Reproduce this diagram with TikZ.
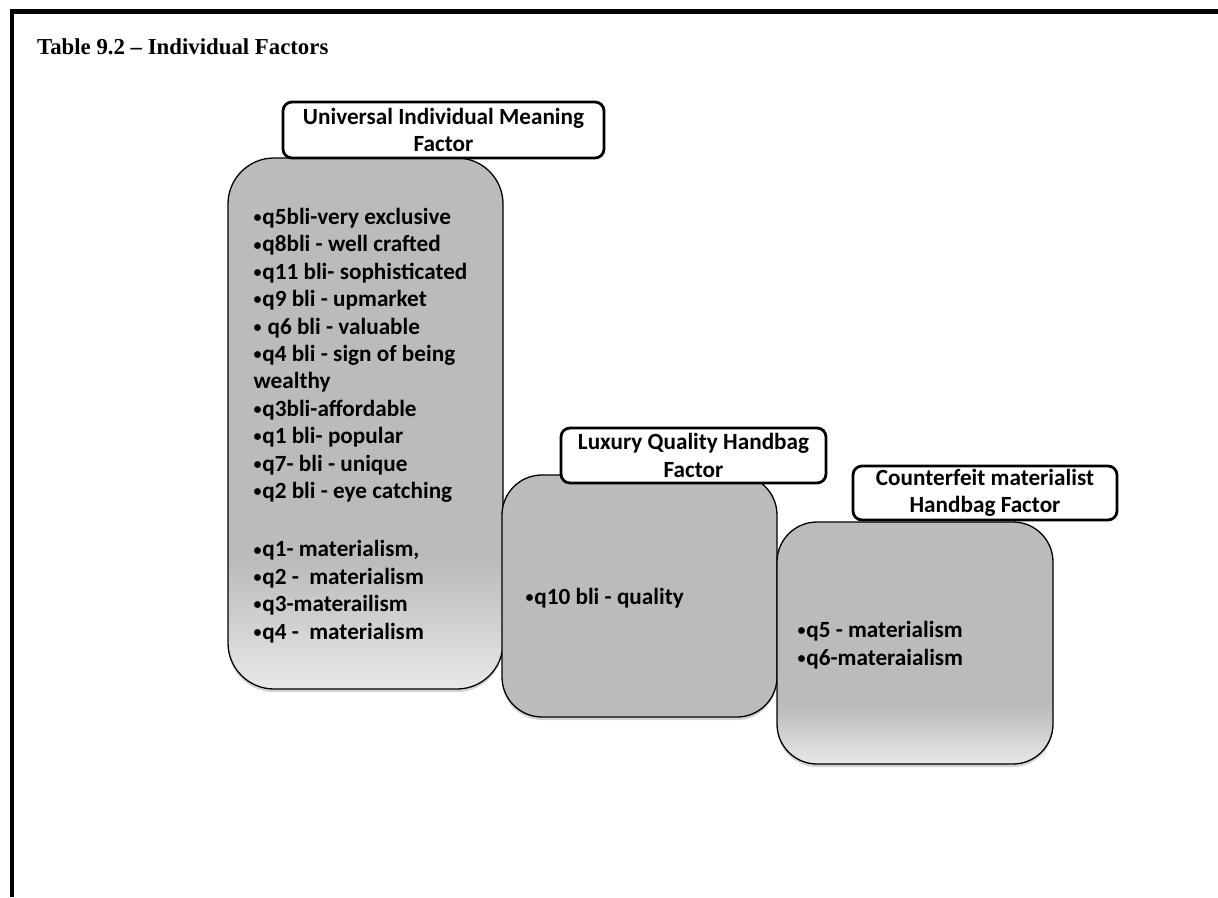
\documentclass[tikz,border=0pt]{standalone}
\usepackage{fontspec}
\setmainfont{Carlito}
\newfontfamily\headfont{Liberation Serif}
\usetikzlibrary{shadows}

\definecolor{boxgray}{HTML}{BBBBBB}
\definecolor{boxlight}{HTML}{E8E8E8}
% grey fill that lightens towards the bottom edge
\pgfdeclareverticalshading{factorshade}{100bp}{color(0bp)=(boxlight); color(25bp)=(boxlight); color(37bp)=(boxgray); color(100bp)=(boxgray)}

\newcommand{\bodyfont}{\fontsize{23.2}{27.4}\selectfont\bfseries}
% small list bullet
\newcommand{\bul}{\raisebox{1.8pt}{\fontsize{16}{16}\selectfont•}\kern0.8pt}

\begin{document}
\begin{tikzpicture}[x=1pt,y=-1pt,
  itembox/.style={draw=black, line width=1.3pt, rectangle, inner sep=0pt,
    drop shadow={shadow xshift=0pt, shadow yshift=-3pt, opacity=0.35}},
  shadedbox/.style={itembox, shade, shading=factorshade},
  plainbox/.style={itembox, fill=boxgray},
  headbox/.style={draw=black, line width=2.8pt, fill=white, rounded corners=9pt,
    inner sep=0pt, align=center, font=\bodyfont},
  itemlist/.style={anchor=west, align=left, inner sep=0pt, font=\bodyfont}]

\useasboundingbox (0,0) rectangle (1218,897);

% page frame: top rule and left rule
\draw[line width=4.5pt] (12,897) -- (12,11.5) -- (1218,11.5);

% caption
\node[anchor=base west, inner sep=0pt, font=\headfont\fontsize{22.8}{27}\selectfont\bfseries]
  (caption) at (37,54) {Table 9.2 – Individual Factors};

% factor boxes
\node[shadedbox, rounded corners=46pt, minimum width=275pt, minimum height=531pt]
  (uni) at (365.5,423.5) {};
\node[plainbox, rounded corners=40pt, minimum width=275pt, minimum height=242pt]
  (lux) at (639.5,596) {};
\node[shadedbox, rounded corners=40pt, minimum width=276pt, minimum height=242pt]
  (cnt) at (915,643) {};

% item lists
\node[itemlist] (unilist) at ([xshift=26pt,yshift=-2pt]uni.west) {%
\bul q5bli-very exclusive\\
\bul q8bli - well crafted\\
\bul q11 bli- sophisticated\\
\bul q9 bli - upmarket\\
\bul\ q6 bli - valuable\\
\bul q4 bli - sign of being\\
wealthy\\
\bul q3bli-affordable\\
\bul q1 bli- popular\\
\bul q7- bli - unique\\
\bul q2 bli - eye catching\\[31pt]
\bul q1- materialism,\\
\bul q2 -~ materialism\\
\bul q3-materailism\\
\bul q4 -~ materialism};
\node[itemlist] (luxlist) at ([xshift=24pt,yshift=-2pt]lux.west) {\bul q10 bli - quality};
\node[itemlist] (cntlist) at ([xshift=21pt,yshift=-2pt]cnt.west) {\bul q5 - materialism\\ \bul q6-materaialism};

% factor headings
\node[headbox, minimum width=321pt, minimum height=56pt] (unihead) at (443.5,130)
  {Universal Individual Meaning\\ Factor};
\node[headbox, minimum width=265pt, minimum height=55pt] (luxhead) at (693.5,455.5)
  {Luxury Quality Handbag\\ Factor};
\node[headbox, minimum width=264pt, minimum height=54pt] (cnthead) at (985,493)
  {Counterfeit materialist\\ Handbag Factor};

\end{tikzpicture}
\end{document}
